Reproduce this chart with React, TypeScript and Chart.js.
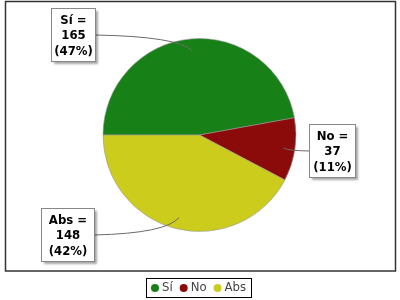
import React, { useEffect, useRef } from "react";
import { Chart, registerables } from "chart.js";

Chart.register(...registerables);

const categories = ["Sí", "No", "Abs"];
const values = [165, 37, 148];
const colors = ["#178017", "#8b0b0b", "#cccc1c"];
// callout box centres and widths for each slice
const labelBoxX = [73, 332, 67.5];
const labelBoxY = [34.5, 150.5, 234];
const labelBoxW = [44, 46, 53];

const FONT_FAMILY = "'DejaVu Sans Condensed', 'DejaVu Sans', sans-serif";

const decorPlugin = {
  id: "decor",
  afterDraw(chart: any) {
    const ctx = chart.ctx as CanvasRenderingContext2D;
    const meta = chart.getDatasetMeta(0);
    const total = values.reduce((a, b) => a + b, 0);
    ctx.save();
    // frame
    ctx.strokeStyle = "#333";
    ctx.lineWidth = 1.5;
    ctx.strokeRect(5.5, 1.5, 390, 269.5);

    // callouts
    meta.data.forEach((arc: any, i: number) => {
      const mid = (arc.startAngle + arc.endAngle) / 2;
      const r = arc.outerRadius * 0.88;
      const ax = arc.x + Math.cos(mid) * r;
      const ay = arc.y + Math.sin(mid) * r;
      const lines = [
        `${categories[i]} =`,
        `${values[i]}`,
        `(${Math.round((values[i] / total) * 100)}%)`,
      ];
      ctx.font = `bold 13px ${FONT_FAMILY}`;
      const w = labelBoxW[i];
      const h = 53;
      const bx = Math.round(labelBoxX[i] - w / 2) + 0.5;
      const by = Math.round(labelBoxY[i] - h / 2) + 0.5;
      const leftSide = labelBoxX[i] < arc.x;
      const sx = leftSide ? bx + w : bx;
      const sy = by + h / 2;
      // connector
      ctx.strokeStyle = "#6a6a6a";
      ctx.lineWidth = 1;
      ctx.beginPath();
      ctx.moveTo(sx, sy);
      const cx = ax + (sx - ax) * 0.15;
      const cy = sy + (ay - sy) * 0.1;
      ctx.quadraticCurveTo(cx, cy, ax, ay);
      ctx.stroke();
      // box with soft shadow
      ctx.save();
      ctx.shadowColor = "rgba(0,0,0,0.35)";
      ctx.shadowBlur = 2;
      ctx.shadowOffsetX = 2;
      ctx.shadowOffsetY = 2;
      ctx.fillStyle = "#fff";
      ctx.fillRect(bx, by, w, h);
      ctx.restore();
      ctx.strokeStyle = "#888";
      ctx.strokeRect(bx, by, w, h);
      ctx.fillStyle = "#000";
      ctx.textAlign = "center";
      ctx.textBaseline = "middle";
      lines.forEach((l, k) => {
        ctx.fillText(l, bx + w / 2, by + 12 + k * 15.5);
      });
    });

    // legend
    ctx.font = `13px ${FONT_FAMILY}`;
    ctx.textBaseline = "middle";
    ctx.textAlign = "left";
    const ly = 288;
    const pad = 5;
    const rad = 4;
    const gapAfterDot = 3;
    const itemGap = 7;
    const widths = categories.map((c) => ctx.measureText(c).width);
    const contentW =
      widths.reduce((a, b) => a + b, 0) +
      categories.length * (rad * 2 + gapAfterDot) +
      (categories.length - 1) * itemGap;
    const boxW = Math.round(contentW + pad * 2);
    const boxL = Math.round(198 - boxW / 2);
    ctx.strokeStyle = "#000";
    ctx.lineWidth = 1;
    ctx.strokeRect(boxL + 0.5, 278.5, boxW, 19);
    let x = boxL + pad;
    categories.forEach((c, i) => {
      ctx.fillStyle = colors[i];
      ctx.beginPath();
      ctx.arc(x + rad, ly, rad, 0, Math.PI * 2);
      ctx.fill();
      ctx.fillStyle = "#444";
      ctx.fillText(c, x + rad * 2 + gapAfterDot, ly);
      x += rad * 2 + gapAfterDot + widths[i] + itemGap;
    });
    ctx.restore();
  },
};

function PieChart() {
  const ref = useRef<HTMLCanvasElement | null>(null);
  useEffect(() => {
    if (!ref.current) return;
    const chart = new Chart(ref.current, {
      type: "pie",
      data: {
        labels: categories,
        datasets: [
          {
            data: values,
            backgroundColor: colors,
            borderColor: "rgba(150,150,150,0.6)",
            borderWidth: 1,
          },
        ],
      },
      options: {
        responsive: false,
        animation: false,
        rotation: -90,
        layout: { padding: { top: 38, bottom: 68, left: 5, right: 6 } },
        plugins: {
          legend: { display: false },
          tooltip: { enabled: false },
        },
      },
      plugins: [decorPlugin],
    });
    return () => chart.destroy();
  }, []);
  return <canvas ref={ref} width={400} height={300} />;
}

export default function App() {
  return (
    <div style={{ position: "absolute", left: 0, top: 0, width: 400, height: 300, background: "#fff" }}>
      <PieChart />
    </div>
  );
}
